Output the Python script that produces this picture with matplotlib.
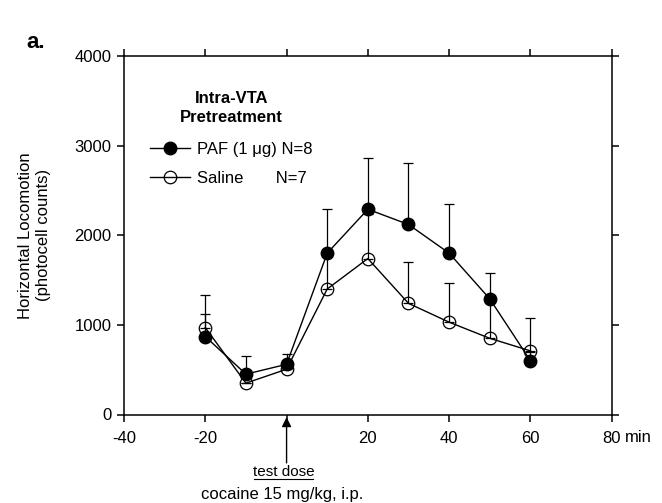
import numpy as np
import matplotlib
matplotlib.use("Agg")
import matplotlib.pyplot as plt

plt.rcParams['font.family'] = ['Liberation Sans', 'DejaVu Sans']

# time (min) relative to cocaine test dose
time_min = [-20, -10, 0, 10, 20, 30, 40, 50, 60]

# PAF (1 ug) N=8 : mean and SEM (upper bar only)
paf_mean = [870, 450, 560, 1800, 2290, 2120, 1800, 1290, 600]
paf_sem = [250, 200, 110, 490, 575, 690, 545, 290, 100]

# Saline N=7
sal_mean = [970, 350, 505, 1400, 1740, 1240, 1030, 850, 710]
sal_sem = [360, 0, 60, 380, 500, 465, 440, 400, 365]

x_ticks = [-40, -20, 0, 20, 40, 60, 80]
x_tick_labels = ['-40', '-20', '', '20', '40', '60', '80']
y_ticks = [0, 1000, 2000, 3000, 4000]

fig = plt.figure(figsize=(6.62, 5.03), dpi=100)
ax = fig.add_axes([124 / 662, 1 - 414.5 / 503, (611.7 - 124) / 662, (414.5 - 56) / 503])

# error bars (upward only)
ax.errorbar(time_min, paf_mean, yerr=[np.zeros(len(paf_sem)), paf_sem], fmt='none',
            ecolor='black', elinewidth=0.9, capsize=3.5, capthick=0.9, zorder=2)
ax.errorbar(time_min, sal_mean, yerr=[np.zeros(len(sal_sem)), sal_sem], fmt='none',
            ecolor='black', elinewidth=0.9, capsize=3.5, capthick=0.9, zorder=2)

l1, = ax.plot(time_min, paf_mean, color='black', lw=1.0, marker='o', ms=9,
              mfc='black', mec='black', zorder=3)
l2, = ax.plot(time_min, sal_mean, color='black', lw=1.0, marker='o', ms=9,
              mfc='none', mec='black', mew=0.9, zorder=3)

ax.set_xlim(-40, 80)
ax.set_ylim(0, 4000)
ax.set_xticks(x_ticks)
ax.set_xticklabels(x_tick_labels, fontsize=12)
ax.set_yticks(y_ticks)
ax.set_yticklabels([str(v) for v in y_ticks], fontsize=12)
ax.tick_params(direction='out', length=5, width=1.1, top=True, right=True, pad=4)
ax.tick_params(axis='x', pad=7)
for sp in ax.spines.values():
    sp.set_linewidth(1.1)

# "min" unit next to the 80 tick label
ax.annotate('min', xy=(1.0, 0), xycoords='axes fraction', xytext=(13, -16),
            textcoords='offset pixels', fontsize=12, ha='left', va='top',
            annotation_clip=False)

ax.set_ylabel('Horizontal Locomotion\n(photocell counts)', fontsize=12,
              linespacing=1.2, labelpad=17)

ax.text(-13.5, 3610, 'Intra-VTA\nPretreatment', fontsize=12, fontweight='bold',
        ha='center', va='top', linespacing=1.3)

leg = ax.legend([l1, l2], ['PAF (1 μg) N=8', 'Saline       N=7'],
                loc='upper left', bbox_to_anchor=(150 / 662, 1 - 142 / 503),
                bbox_transform=fig.transFigure, frameon=False, fontsize=12,
                handlelength=2.4, handletextpad=0.4, borderpad=0,
                borderaxespad=0, labelspacing=0.85)

# test dose arrow
ax.annotate('', xy=(0, -30), xytext=(0, -0.135), textcoords=('data', 'axes fraction'),
            xycoords='data', annotation_clip=False,
            arrowprops=dict(arrowstyle='-|>', color='black', lw=1.0,
                            mutation_scale=14, shrinkA=0, shrinkB=0))
fig.text(284 / 662, 1 - 476 / 503, 'test dose', fontsize=11, ha='center',
         va='baseline')
fig.add_artist(plt.Line2D([254 / 662, 313 / 662], [1 - 479 / 503, 1 - 479 / 503],
                          color='black', lw=0.8))
fig.text(282 / 662, 1 - 499 / 503, 'cocaine 15 mg/kg, i.p.', fontsize=12,
         ha='center', va='baseline')

fig.text(26 / 662, 1 - 48 / 503, 'a.', fontsize=16, fontweight='bold',
         ha='left', va='baseline')

fig.savefig('out.png', dpi=100)
